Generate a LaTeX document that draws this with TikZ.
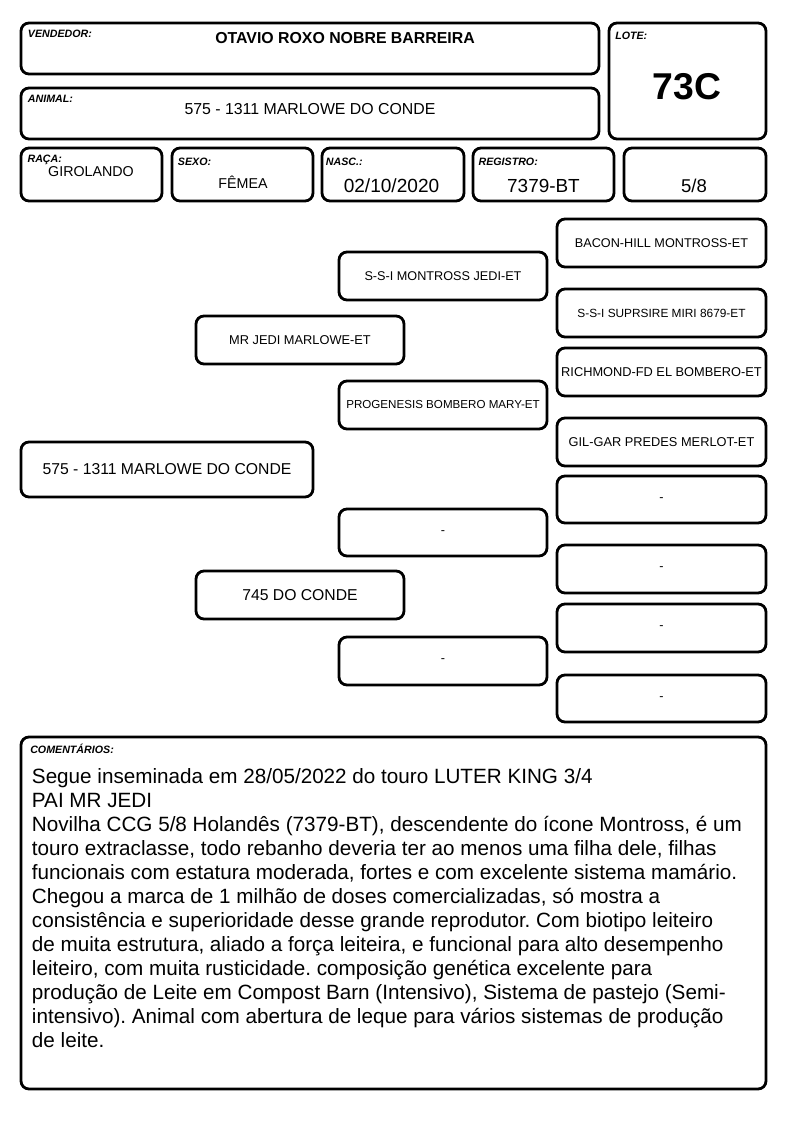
\documentclass[tikz,border=0pt]{standalone}
\usepackage{fontspec}
\setmainfont{Liberation Sans}
\frenchspacing
\newcommand\fsz[1]{\fontsize{#1}{#1}\selectfont}
\newcommand\pbox[7]{%
  \node[box, minimum width={(#4-#2)*0.75pt}, minimum height={(#5-#3)*0.75pt},
        font=\fsz{#6}] (#1) at ({(#2+#4)/2},{(#3+#5)/2}) {#7};}
\begin{document}
\begin{tikzpicture}[x=0.75pt,y=-0.75pt,
  box/.style={draw=black, line width=2.1pt, rounded corners=6pt, inner sep=0pt, fill=white},
  lbl/.style={anchor=base west, inner sep=0pt, font=\fsz{8}\bfseries\itshape},
  val/.style={anchor=base, inner sep=0pt}]
\useasboundingbox[fill=white] (0,0) rectangle (794,1123);
% header boxes
\pbox{vend}{21}{23}{599}{74}{10}{}
\pbox{lote}{609}{23}{766}{139}{10}{}
\pbox{anim}{21}{88}{599}{139}{10}{}
\pbox{raca}{21}{148}{162}{201}{10}{}
\pbox{sexo}{172}{148}{313}{201}{10}{}
\pbox{nasc}{322}{148}{464}{201}{10}{}
\pbox{reg}{473}{148}{614}{201}{10}{}
\pbox{grau}{624}{148}{766}{201}{10}{}
% labels
\node[lbl] (l-vend) at (27.7,37.7) {VENDEDOR:};
\node[lbl] (l-anim) at (27.7,102.3) {ANIMAL:};
\node[lbl] (l-lote) at (615,39.3) {LOTE:};
\node[lbl] (l-raca) at (27.3,162.3) {RAÇA:};
\node[lbl] (l-sexo) at (177.7,165.7) {SEXO:};
\node[lbl] (l-nasc) at (325.7,165.7) {NASC.:};
\node[lbl] (l-reg) at (478.3,165.7) {REGISTRO:};
% values
\node[val, font=\fsz{11.9}\bfseries] (v-vend) at (345,43.5) {OTAVIO ROXO NOBRE BARREIRA};
\node[val, font=\fsz{11.9}] (v-anim) at (310,115) {575 - 1311 MARLOWE DO CONDE};
\node[val, font=\fsz{28}\bfseries] (v-lote) at (687,100) {73C};
\node[val, font=\fsz{10.7}] (v-raca) at (91,177) {GIROLANDO};
\node[val, font=\fsz{10.7}] (v-sexo) at (243,188.5) {FÊMEA};
\node[val, font=\fsz{14.3}] (v-nasc) at (391.5,192.5) {02/10/2020};
\node[val, font=\fsz{14.2}] (v-reg) at (543.5,192.3) {7379-BT};
\node[val, font=\fsz{13.9}] (v-grau) at (694,192.3) {5/8};
% pedigree
\pbox{g0}{21}{442}{313}{497}{11.8}{575 - 1311 MARLOWE DO CONDE}
\pbox{g1a}{196}{316}{404}{364}{9.6}{MR JEDI MARLOWE-ET}
\pbox{g1b}{196}{571}{404}{619}{11.8}{745 DO CONDE}
\pbox{g2a}{339}{252}{547}{300}{9.5}{S-S-I MONTROSS JEDI-ET}
\pbox{g2b}{339}{381}{547}{429}{8.7}{PROGENESIS BOMBERO MARY-ET}
\pbox{g2c}{339}{509}{547}{556}{9.5}{-}
\pbox{g2d}{339}{637}{547}{685}{9.5}{-}
\pbox{g3a}{557}{219}{766}{267}{9.5}{BACON-HILL MONTROSS-ET}
\pbox{g3b}{557}{289}{766}{337}{8.9}{S-S-I SUPRSIRE MIRI 8679-ET}
\pbox{g3c}{557}{348}{766}{396}{9.6}{RICHMOND-FD EL BOMBERO-ET}
\pbox{g3d}{557}{418}{766}{466}{9.6}{GIL-GAR PREDES MERLOT-ET}
\pbox{g3e}{557}{476}{766}{523}{9.5}{-}
\pbox{g3f}{557}{545}{766}{593}{9.5}{-}
\pbox{g3g}{557}{604}{766}{652}{9.5}{-}
\pbox{g3h}{557}{675}{766}{722}{9.5}{-}
% comments
\pbox{com}{21}{737}{766}{1089}{10}{}
\node[lbl] (l-com) at (30,753.3) {COMENTÁRIOS:};
\node[anchor=north west, inner sep=0pt, align=left, font=\fontsize{15.5}{18}\selectfont] (t-com) at (31.7,768) {%
Segue inseminada em 28/05/2022 do touro LUTER KING 3/4\\
PAI MR JEDI\\
Novilha CCG 5/8 Holandês (7379-BT), descendente do ícone Montross, é um\\
touro extraclasse, todo rebanho deveria ter ao menos uma filha dele, filhas\\
funcionais com estatura moderada, fortes e com excelente sistema mamário.\\
Chegou a marca de 1 milhão de doses comercializadas, só mostra a\\
consistência e superioridade desse grande reprodutor. Com biotipo leiteiro\\
de muita estrutura, aliado a força leiteira, e funcional para alto desempenho\\
leiteiro, com muita rusticidade. composição genética excelente para\\
produção de Leite em Compost Barn (Intensivo), Sistema de pastejo (Semi-\\
intensivo). Animal com abertura de leque para vários sistemas de produção\\
de leite.};
\end{tikzpicture}
\end{document}
